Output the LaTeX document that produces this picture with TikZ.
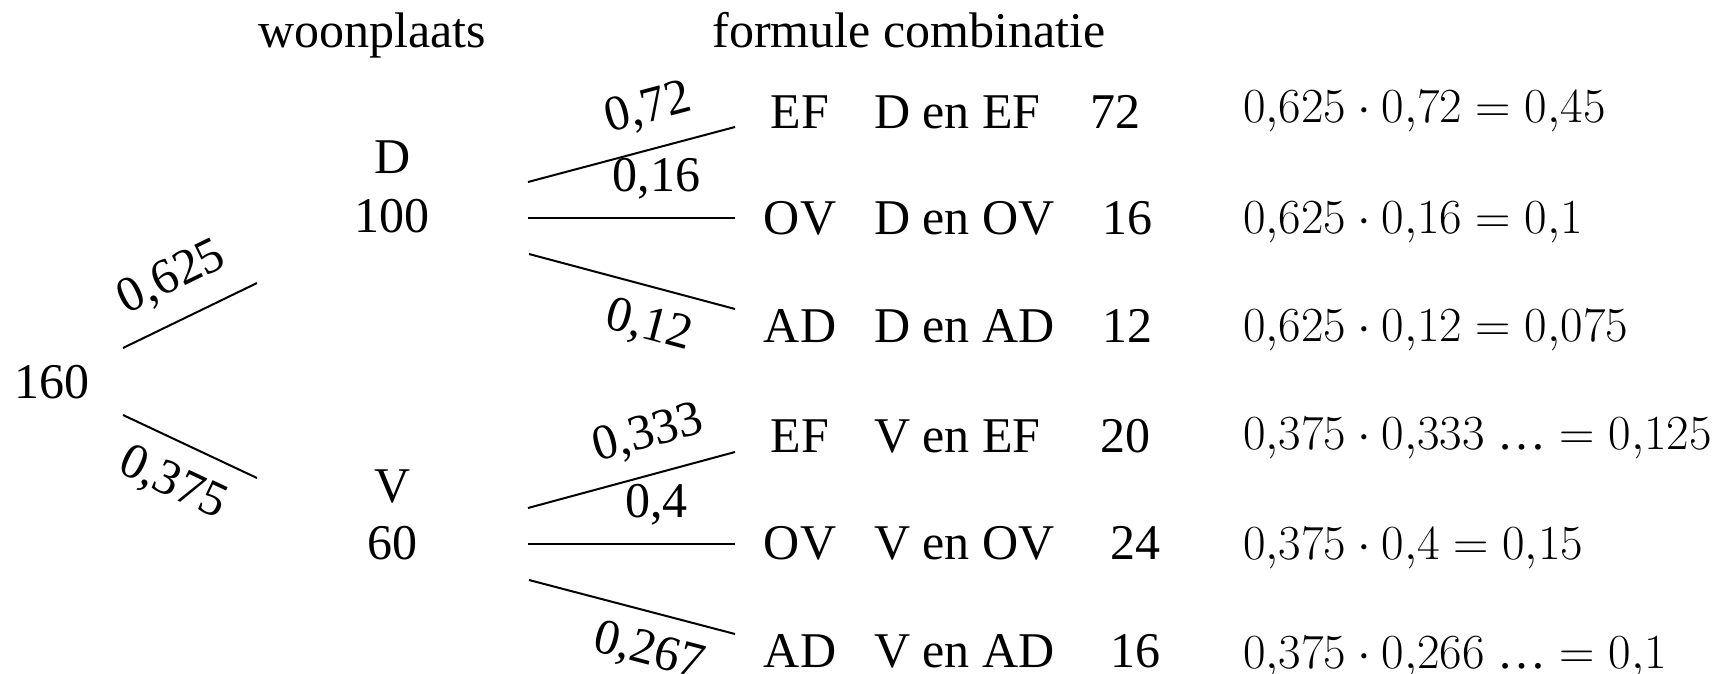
\RequirePackage{fix-cm}
\documentclass[tikz,border=0pt]{standalone}
\usepackage[no-math]{fontspec}
\setmainfont{Liberation Serif}
\usepackage{amsmath}

\begin{document}
\begin{tikzpicture}[x=0.5pt, y=-0.5pt, line width=1pt,
	txt/.style={anchor=base, inner sep=0pt, font=\fontsize{25}{30}\selectfont},
	comb/.style={anchor=base west, inner sep=0pt, font=\fontsize{25}{30}\selectfont},
	prob/.style={sloped, inner sep=0pt, font=\fontsize{25}{30}\selectfont},
	calc/.style={anchor=base west, inner sep=0pt, font=\fontsize{24.5}{29}\selectfont}]
	\useasboundingbox (0,0) rectangle (1734,674);
	%%
	\node[txt] (woon) at (372,48) {woonplaats};
	\node[txt] (form) at (909,48) {formule combinatie};
	%%
	\node[txt] (root) at (52,398) {160};
	\node[txt] (D) at (393,173) {D};
	\node[txt] (Dn) at (392,232) {100};
	\node[txt] (V) at (393,502) {V};
	\node[txt] (Vn) at (392,559) {60};
	%%
	\coordinate (rD) at (123,348);
	\coordinate (rV) at (123,415);
	\coordinate (eD) at (257,283);
	\coordinate (eV) at (257,478);
	\draw (rD) -- (eD) node[prob, midway, above=10pt] (p625) {0,625};
	\draw (rV) -- (eV) node[prob, midway, below=10pt] (p375) {0,375};
	%%
	\coordinate (D1) at (528,182);
	\coordinate (D2) at (528,218);
	\coordinate (D3) at (529,254);
	\coordinate (DEF) at (735,127);
	\coordinate (DOV) at (735,218);
	\coordinate (DAD) at (735,309);
	\draw (D1) -- (DEF) node[prob, pos=0.63, above=9pt] (p72) {0,72};
	\draw (D2) -- (DOV) node[prob, pos=0.62, above=9pt] (p16) {0,16};
	\draw (D3) -- (DAD) node[prob, pos=0.63, below=9pt] (p12) {0,12};
	%%
	\coordinate (V1) at (528,508);
	\coordinate (V2) at (528,544);
	\coordinate (V3) at (529,580);
	\coordinate (VEF) at (735,452);
	\coordinate (VOV) at (735,544);
	\coordinate (VAD) at (735,634);
	\draw (V1) -- (VEF) node[prob, pos=0.63, above=9pt] (p333) {0,333};
	\draw (V2) -- (VOV) node[prob, pos=0.62, above=9pt] (p4) {0,4};
	\draw (V3) -- (VAD) node[prob, pos=0.63, below=9pt] (p267) {0,267};
	%%
	\node[txt] (ef1) at (800,128) {EF};
	\node[txt] (ov1) at (800,234) {OV};
	\node[txt] (ad1) at (800,342) {AD};
	\node[txt] (ef2) at (800,452) {EF};
	\node[txt] (ov2) at (800,559) {OV};
	\node[txt] (ad2) at (800,667) {AD};
	%%
	\node[comb] (cDEF) at (873,128) {D en EF};
	\node[comb] (cDOV) at (873,234) {D en OV};
	\node[comb] (cDAD) at (873,342) {D en AD};
	\node[comb] (cVEF) at (873,452) {V en EF};
	\node[comb] (cVOV) at (873,559) {V en OV};
	\node[comb] (cVAD) at (873,667) {V en AD};
	%%
	\node[txt] (nDEF) at (1115,128) {72};
	\node[txt] (nDOV) at (1127,234) {16};
	\node[txt] (nDAD) at (1127,342) {12};
	\node[txt] (nVEF) at (1125,452) {20};
	\node[txt] (nVOV) at (1135,559) {24};
	\node[txt] (nVAD) at (1135,667) {16};
	%%
	\node[calc] (fDEF) at (1242,123) {$0{,}625\cdot 0{,}72=0{,}45$};
	\node[calc] (fDOV) at (1242,233) {$0{,}625\cdot 0{,}16=0{,}1$};
	\node[calc] (fDAD) at (1242,341) {$0{,}625\cdot 0{,}12=0{,}075$};
	\node[calc] (fVEF) at (1242,449) {$0{,}375\cdot 0{,}333\ \text{…}=0{,}125$};
	\node[calc] (fVOV) at (1242,559) {$0{,}375\cdot 0{,}4=0{,}15$};
	\node[calc] (fVAD) at (1242,668) {$0{,}375\cdot 0{,}266\ \text{…}=0{,}1$};
\end{tikzpicture}
\end{document}
